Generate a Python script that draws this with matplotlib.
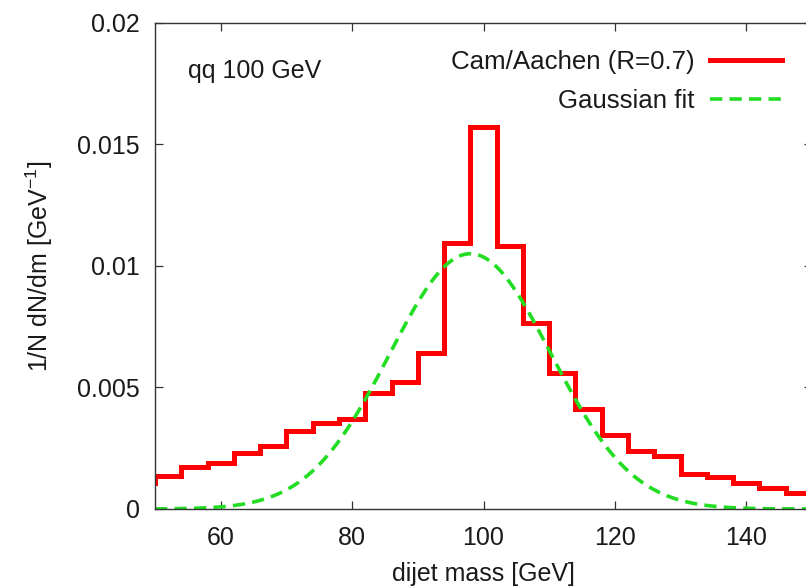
import numpy as np
import matplotlib
matplotlib.use("Agg")
import matplotlib.pyplot as plt

plt.rcParams['font.family'] = ['Liberation Sans', 'DejaVu Sans']

# Histogram (Cam/Aachen R=0.7), 4 GeV bins
bin_edges = np.arange(46, 154, 4)
hist_values = [1.06e-3, 1.34e-3, 1.74e-3, 1.90e-3, 2.31e-3, 2.59e-3, 3.21e-3,
               3.55e-3, 3.69e-3, 4.76e-3, 5.24e-3, 6.40e-3, 10.95e-3, 15.72e-3,
               10.81e-3, 7.66e-3, 5.58e-3, 4.12e-3, 3.03e-3, 2.40e-3, 2.18e-3,
               1.44e-3, 1.30e-3, 1.06e-3, 0.85e-3, 0.67e-3]

# Gaussian fit parameters
gauss_amp = 0.0105
gauss_mean = 98.0
gauss_sigma = 12.3

x_ticks = [60, 80, 100, 120, 140]
y_ticks = [0, 0.005, 0.01, 0.015, 0.02]
y_ticklabels = ['0', '0.005', '0.01', '0.015', '0.02']

W, H = 806, 586
fig = plt.figure(figsize=(W / 100, H / 100), dpi=100)
left, right, bottom, top = 155, 812, 509, 22.7
ax = fig.add_axes([left / W, 1 - bottom / H, (right - left) / W, (bottom - top) / H])

red = '#ff0000'
green = '#22dd22'
txt = '#1a1a1a'

ax.stairs(hist_values, bin_edges, color=red, linewidth=3.6,
          label='Cam/Aachen (R=0.7)')
xg = np.linspace(50, 150, 400)
yg = gauss_amp * np.exp(-(xg - gauss_mean) ** 2 / (2 * gauss_sigma ** 2))
ax.plot(xg, yg, color=green, linewidth=2.6, linestyle=(0, (3.4, 2.0)),
        label='Gaussian fit')

ax.set_xlim(50, 150)
ax.set_ylim(0, 0.02)
ax.set_xticks(x_ticks)
ax.set_yticks(y_ticks)
ax.set_yticklabels(y_ticklabels)
ax.tick_params(direction='in', length=6, width=0.9, colors='#333333',
               labelcolor=txt, labelsize=18, top=True, right=True)
ax.tick_params(axis='y', pad=11)
ax.tick_params(axis='x', pad=12)
for s in ax.spines.values():
    s.set_color('#333333')
    s.set_linewidth(1.0)

ax.set_xlabel('dijet mass [GeV]', fontsize=18, color=txt, labelpad=9)
ax.set_ylabel('1/N dN/dm [GeV$^{\\mathregular{-1}}$]', fontsize=18, color=txt, labelpad=16)

fig.text(188 / W, 1 - 71 / H, 'qq 100 GeV', fontsize=18, color=txt,
         ha='left', va='center')

leg = ax.legend(loc='upper right', bbox_to_anchor=(782.3 / W, 1 - 50.5 / H),
                bbox_transform=fig.transFigure, frameon=False, markerfirst=False,
                fontsize=18.6, handlelength=2.8, handletextpad=0.6,
                labelspacing=0.55, borderpad=0, borderaxespad=0)
for t in leg.get_texts():
    t.set_color(txt)

fig.savefig('out.png', dpi=100)
